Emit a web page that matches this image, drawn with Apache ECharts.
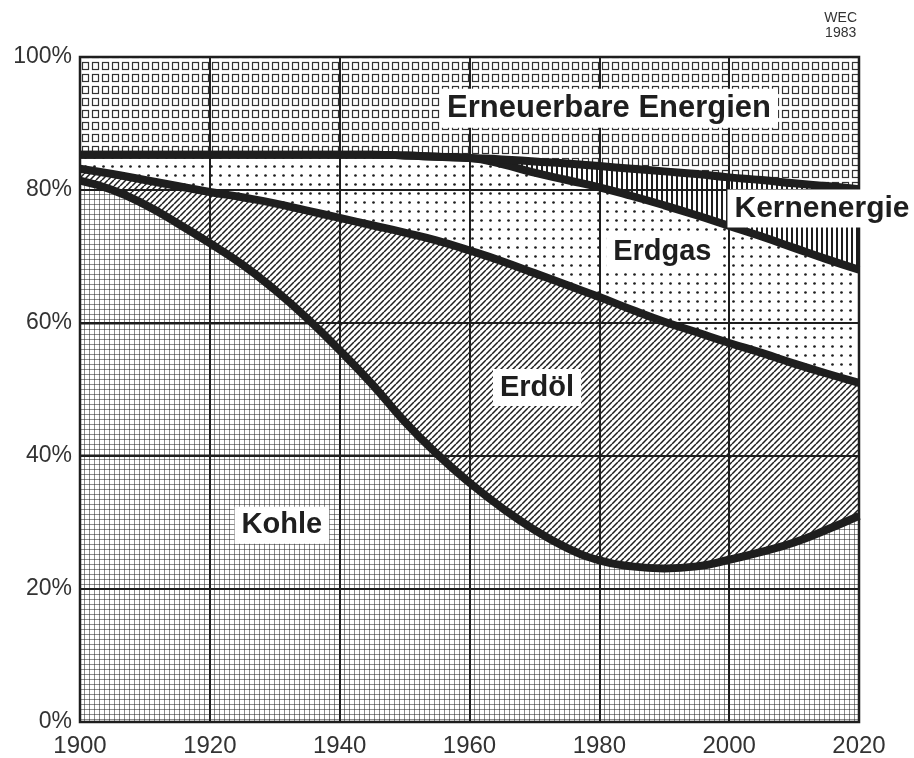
<!DOCTYPE html>
<html>
<head>
  <meta charset="UTF-8">
  <title>Anteile der Energieträger 1900-2020</title>
  <script src="https://cdn.jsdelivr.net/npm/echarts@6/dist/echarts.min.js"></script>
</head>
<body style="margin: 0">
<div id="main" style="width: 914px; height: 758px"></div>
<script>
// Anteile am Welt-Primärenergieverbrauch in % (WEC 1983)
var years = [1900, 1905, 1910, 1915, 1920, 1925, 1930, 1935, 1940, 1945, 1950, 1955,
  1960, 1965, 1970, 1975, 1980, 1985, 1990, 1995, 2000, 2005, 2010, 2015, 2020];
var kohle = [81.4, 80.0, 77.8, 75.0, 72.0, 68.8, 65.0, 60.7, 55.9, 50.8, 45.2, 40.3,
  36.0, 32.2, 28.9, 26.2, 24.3, 23.4, 23.1, 23.4, 24.4, 25.6, 27.0, 28.9, 31.0];
var erdoel = [1.8, 2.4, 3.7, 5.6, 7.7, 10.1, 13.0, 16.2, 19.9, 23.9, 28.4, 32.1,
  34.9, 37.1, 38.6, 39.5, 39.6, 38.6, 37.1, 35.2, 32.6, 29.9, 26.9, 23.5, 20.0];
var erdgas = [2.1, 2.9, 3.8, 4.7, 5.6, 6.4, 7.3, 8.4, 9.5, 10.6, 11.6, 12.6,
  13.9, 14.6, 15.1, 15.8, 16.5, 17.1, 17.5, 17.6, 17.6, 17.5, 17.4, 17.2, 17.0];
var kern = [0, 0, 0, 0, 0, 0, 0, 0, 0, 0, 0, 0,
  0, 0.7, 1.7, 2.5, 3.2, 4.1, 5.1, 6.2, 7.3, 8.5, 9.7, 11.0, 12.1];
var erneuerbar = [14.7, 14.7, 14.7, 14.7, 14.7, 14.7, 14.7, 14.7, 14.7, 14.7, 14.8, 15.0,
  15.2, 15.4, 15.7, 16.0, 16.4, 16.8, 17.2, 17.6, 18.1, 18.5, 19.0, 19.4, 19.9];

var ink = '#1e1e1e';

function tile(w, h, draw) {
  var c = document.createElement('canvas');
  c.width = w; c.height = h;
  var ctx = c.getContext('2d');
  ctx.fillStyle = '#fff';
  ctx.fillRect(0, 0, w, h);
  ctx.fillStyle = ink;
  ctx.strokeStyle = ink;
  draw(ctx);
  return { image: c, repeat: 'repeat' };
}

// Raster fuer die Flaechen
var patKohle = tile(5, 5, function (ctx) {
  ctx.fillStyle = '#8c8c8c';
  ctx.fillRect(4, 0, 1, 5);
  ctx.fillRect(0, 4, 5, 1);
  ctx.fillStyle = '#555';
  ctx.fillRect(4, 4, 1, 1);
});
var patOel = tile(6, 6, function (ctx) {
  ctx.lineWidth = 1.5;
  ctx.beginPath();
  [-6, 0, 6].forEach(function (k) {
    ctx.moveTo(k, 6);
    ctx.lineTo(k + 6, 0);
  });
  ctx.stroke();
});
var patGas = tile(9, 9, function (ctx) {
  ctx.beginPath();
  ctx.arc(4.5, 4.5, 1.35, 0, Math.PI * 2);
  ctx.fill();
});
var patKern = tile(5, 5, function (ctx) {
  ctx.fillRect(1, 0, 2, 5);
});
var patNeu = tile(10, 12, function (ctx) {
  ctx.strokeStyle = '#333';
  ctx.lineWidth = 1.2;
  ctx.strokeRect(2.5, 2.5, 6, 7);
});

var parts = [
  { name: 'Kohle', data: kohle, pattern: patKohle },
  { name: 'Erdöl', data: erdoel, pattern: patOel },
  { name: 'Erdgas', data: erdgas, pattern: patGas },
  { name: 'Kernenergie', data: kern, pattern: patKern },
  { name: 'Erneuerbare Energien', data: erneuerbar, pattern: patNeu }
];

// kumulierte Obergrenzen der Flaechen
var sum = years.map(function () { return 0; });
parts.forEach(function (p) {
  sum = sum.map(function (s, i) { return s + p.data[i]; });
  p.top = years.map(function (y, i) { return [y, Math.min(100, +sum[i].toFixed(2))]; });
});

var series = [];
// von oben nach unten zeichnen, die tieferen Flaechen decken die hoeheren ab
parts.slice().reverse().forEach(function (p) {
  series.push({
    name: p.name,
    type: 'line',
    smooth: true,
    symbol: 'none',
    lineStyle: { width: 0 },
    areaStyle: { color: p.pattern, opacity: 1, origin: 'start' },
    data: p.top,
    z: 1
  });
});
// dicke Grenzlinien zwischen den Energietraegern
parts.slice(0, 4).forEach(function (p) {
  series.push({
    name: p.name + ' Linie',
    type: 'line',
    smooth: true,
    symbol: 'none',
    lineStyle: { width: 8, color: ink, cap: 'butt' },
    data: p.top,
    z: 4
  });
});

var font = '"Liberation Sans", Arial, sans-serif';

var chart = echarts.init(document.getElementById('main'));
chart.setOption({
  animation: false,
  backgroundColor: '#fff',
  grid: {
    left: 80, right: 55, top: 57, bottom: 35,
    show: true, borderColor: ink, borderWidth: 2.5,
    backgroundColor: 'transparent', z: 5
  },
  xAxis: {
    type: 'value', min: 1900, max: 2020, interval: 20, z: 3,
    axisLine: { show: false }, axisTick: { show: false },
    axisLabel: { color: '#333', fontSize: 24, fontFamily: font, margin: 12,
      formatter: function (v) { return String(v); } },
    splitLine: { show: true, lineStyle: { color: ink, width: 2 } }
  },
  yAxis: {
    type: 'value', min: 0, max: 100, interval: 20, z: 3,
    axisLine: { show: false }, axisTick: { show: false },
    axisLabel: { color: '#333', fontSize: 23, fontFamily: font, margin: 8,
      formatter: '{value}%' },
    splitLine: { show: true, lineStyle: { color: ink, width: 2 } }
  },
  series: series
});

// Beschriftungen der Flaechen, in Datenkoordinaten platziert
var notes = [
  { text: 'Erneuerbare Energien', at: [1981.5, 92.3], size: 31 },
  { text: 'Kernenergie', at: [2014.3, 77.2], size: 30 },
  { text: 'Erdgas', at: [1989.7, 70.7], size: 29 },
  { text: 'Erdöl', at: [1970.4, 50.3], size: 29 },
  { text: 'Kohle', at: [1931.1, 29.6], size: 29 }
];
var graphics = notes.map(function (n) {
  var p = chart.convertToPixel({ gridIndex: 0 }, n.at);
  return {
    type: 'text', x: p[0], y: p[1], z: 10,
    style: {
      text: n.text,
      font: 'bold ' + n.size + 'px ' + font,
      fill: ink,
      textAlign: 'center',
      textVerticalAlign: 'middle',
      backgroundColor: '#fff',
      padding: [4, 7]
    }
  };
});
graphics.push({
  type: 'text', right: 57, top: 11, z: 10,
  style: {
    text: 'WEC\n1983',
    font: '14px ' + font,
    fill: '#333',
    textAlign: 'center',
    lineHeight: 15
  }
});
chart.setOption({ graphic: graphics });

window.addEventListener('resize', chart.resize);
</script>
</body>
</html>
